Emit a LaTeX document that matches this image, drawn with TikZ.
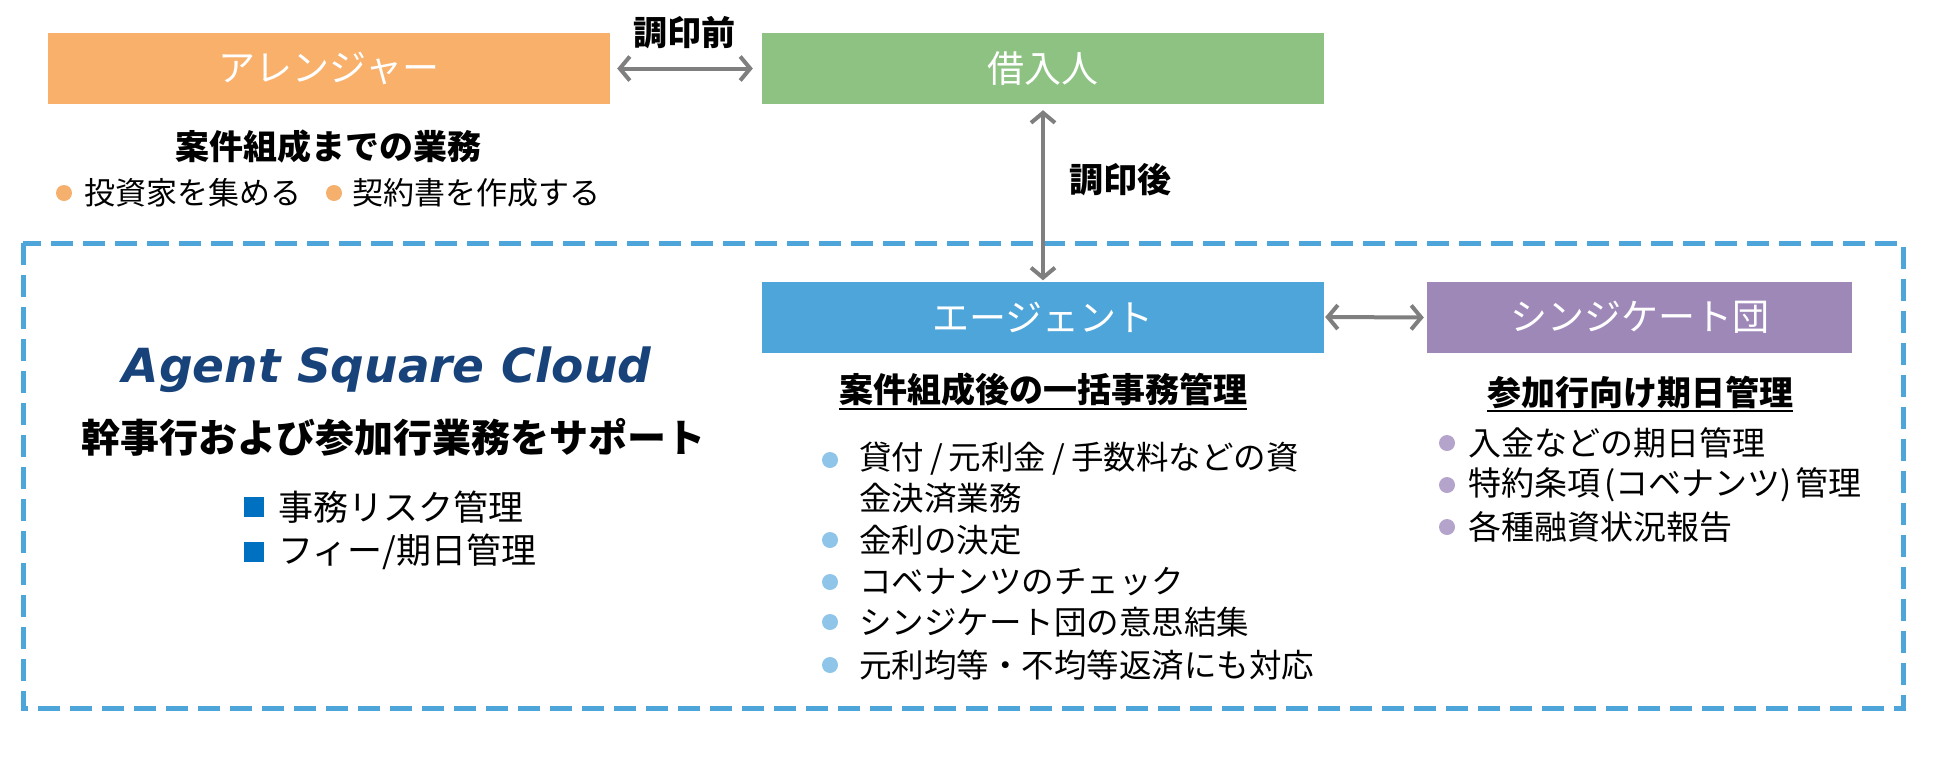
\documentclass[tikz,border=0pt]{standalone}
\usepackage{fontspec}
\setmainfont{Noto Sans CJK JP}
\newfontfamily\latinfont{DejaVu Sans}
\usetikzlibrary{arrows.meta}
\definecolor{arrOrange}{HTML}{F8B06B}
\definecolor{brGreen}{HTML}{8DC283}
\definecolor{agBlue}{HTML}{4EA5D9}
\definecolor{syPurple}{HTML}{9E88B8}
\definecolor{dashBlue}{HTML}{4EA5D9}
\definecolor{arrowGray}{HTML}{7F7F7F}
\definecolor{dotOrange}{HTML}{F4B06C}
\definecolor{dotBlue}{HTML}{8EC5E8}
\definecolor{dotPurple}{HTML}{B4A4CB}
\definecolor{sqBlue}{HTML}{0070C0}
\definecolor{navyText}{HTML}{17427A}
\newcommand{\slsep}{\hspace{6pt}/\hspace{6pt}}
\begin{document}
\begin{tikzpicture}[x=1pt,y=-1pt,
  rolebox/.style={minimum height=71pt, inner sep=0pt, text=white,
    font=\fontsize{37}{40}\selectfont},
  arr/.style={draw=arrowGray, line width=4pt,
    {Straight Barb[length=10pt,width=24pt]}-{Straight Barb[length=10pt,width=24pt]}},
  headtext/.style={inner sep=0pt, font=\bfseries\fontsize{34}{38}\selectfont},
  itemtext/.style={inner sep=0pt, anchor=west, font=\fontsize{32.5}{41}\selectfont},
  dot/.style={circle, inner sep=0pt, minimum size=16pt},
  sq/.style={rectangle, inner sep=0pt, minimum size=20pt, fill=sqBlue},
  ul/.style={draw=black, line width=2pt},
  dashbox/.style={draw=dashBlue, line width=5pt, dash pattern=on 22pt off 10pt}
]
\useasboundingbox (0,0) rectangle (1950,758);

% dashed frame
\draw[dashbox] (23,243) rectangle (1903,708);

% role boxes
\node[rolebox, fill=arrOrange, minimum width=562pt] (arranger) at (329,68.5) {アレンジャー};
\node[rolebox, fill=brGreen, minimum width=562pt] (borrower) at (1043,68.5) {借入人};
\node[rolebox, fill=agBlue, minimum width=562pt] (agent) at (1043,317) {エージェント};
\node[rolebox, fill=syPurple, minimum width=425pt] (synd) at (1639.5,317.5) {シンジケート団};

% connectors
\draw[arr, shorten <=7pt, shorten >=9pt] (arranger.east) -- (borrower.west);
\node[headtext] (before) at (684,33) {調印前};
\draw[arr, shorten <=6pt, shorten >=1pt] (borrower.south) -- (agent.north);
\node[headtext] (after) at (1120,180) {調印後};
\draw[arr, shorten <=1pt, shorten >=3pt] (agent.east) -- (synd.west);

% arranger tasks
\node[headtext] (arrhead) at (328,147) {案件組成までの業務};
\node[dot, fill=dotOrange] (ad1) at (64,193) {};
\node[itemtext, font=\fontsize{31}{38}\selectfont] (ai1) at (84,193) {投資家を集める};
\node[dot, fill=dotOrange] (ad2) at (334,193) {};
\node[itemtext, font=\fontsize{31}{38}\selectfont] (ai2) at (352,193) {契約書を作成する};

% Agent Square Cloud
\node[inner sep=0pt, anchor=base, text=navyText,
  font=\latinfont\bfseries\itshape\fontsize{47}{50}\selectfont] (asc) at (387,382) {Agent Square Cloud};
\node[headtext, font=\bfseries\fontsize{39}{44}\selectfont] (support) at (393,437) {幹事行および参加行業務をサポート};
\node[sq] (sq1) at (254,507) {};
\node[itemtext, font=\fontsize{35}{42}\selectfont] (li1) at (278,507) {事務リスク管理};
\node[sq] (sq2) at (254,552) {};
\node[itemtext, font=\fontsize{35}{42}\selectfont] (li2) at (278,552) {フィー/期日管理};

% agent tasks
\node[headtext] (aghead) at (1043,390) {案件組成後の一括事務管理};
\draw[ul] ([yshift=-6pt]aghead.base west) -- ([yshift=-6pt]aghead.base east);
\node[dot, fill=dotBlue] (gd1) at (830,460) {};
\node[itemtext, anchor=north west, align=left] (gi1) at (859,442) {貸付\slsep 元利金\slsep 手数料などの資\\金決済業務};
\node[dot, fill=dotBlue] (gd2) at (830,540) {};
\node[itemtext] (gi2) at (859,540) {金利の決定};
\node[dot, fill=dotBlue] (gd3) at (830,582) {};
\node[itemtext] (gi3) at (859,582) {コベナンツのチェック};
\node[dot, fill=dotBlue] (gd4) at (830,622) {};
\node[itemtext] (gi4) at (859,622) {シンジケート団の意思結集};
\node[dot, fill=dotBlue] (gd5) at (830,665) {};
\node[itemtext] (gi5) at (859,665) {元利均等・不均等返済にも対応};

% syndicate tasks
\node[headtext] (syhead) at (1640,392) {参加行向け期日管理};
\draw[ul] ([yshift=-6pt]syhead.base west) -- ([yshift=-6pt]syhead.base east);
\node[dot, fill=dotPurple] (sd1) at (1447,443) {};
\node[itemtext, font=\fontsize{33}{40}\selectfont] (si1) at (1468,443) {入金などの期日管理};
\node[dot, fill=dotPurple] (sd2) at (1447,485) {};
\node[itemtext, font=\fontsize{33}{40}\selectfont] (si2) at (1468,485) {特約条項\hspace{4pt}(コベナンツ)\hspace{4pt}管理};
\node[dot, fill=dotPurple] (sd3) at (1447,527) {};
\node[itemtext, font=\fontsize{33}{40}\selectfont] (si3) at (1468,527) {各種融資状況報告};
\end{tikzpicture}
\end{document}
